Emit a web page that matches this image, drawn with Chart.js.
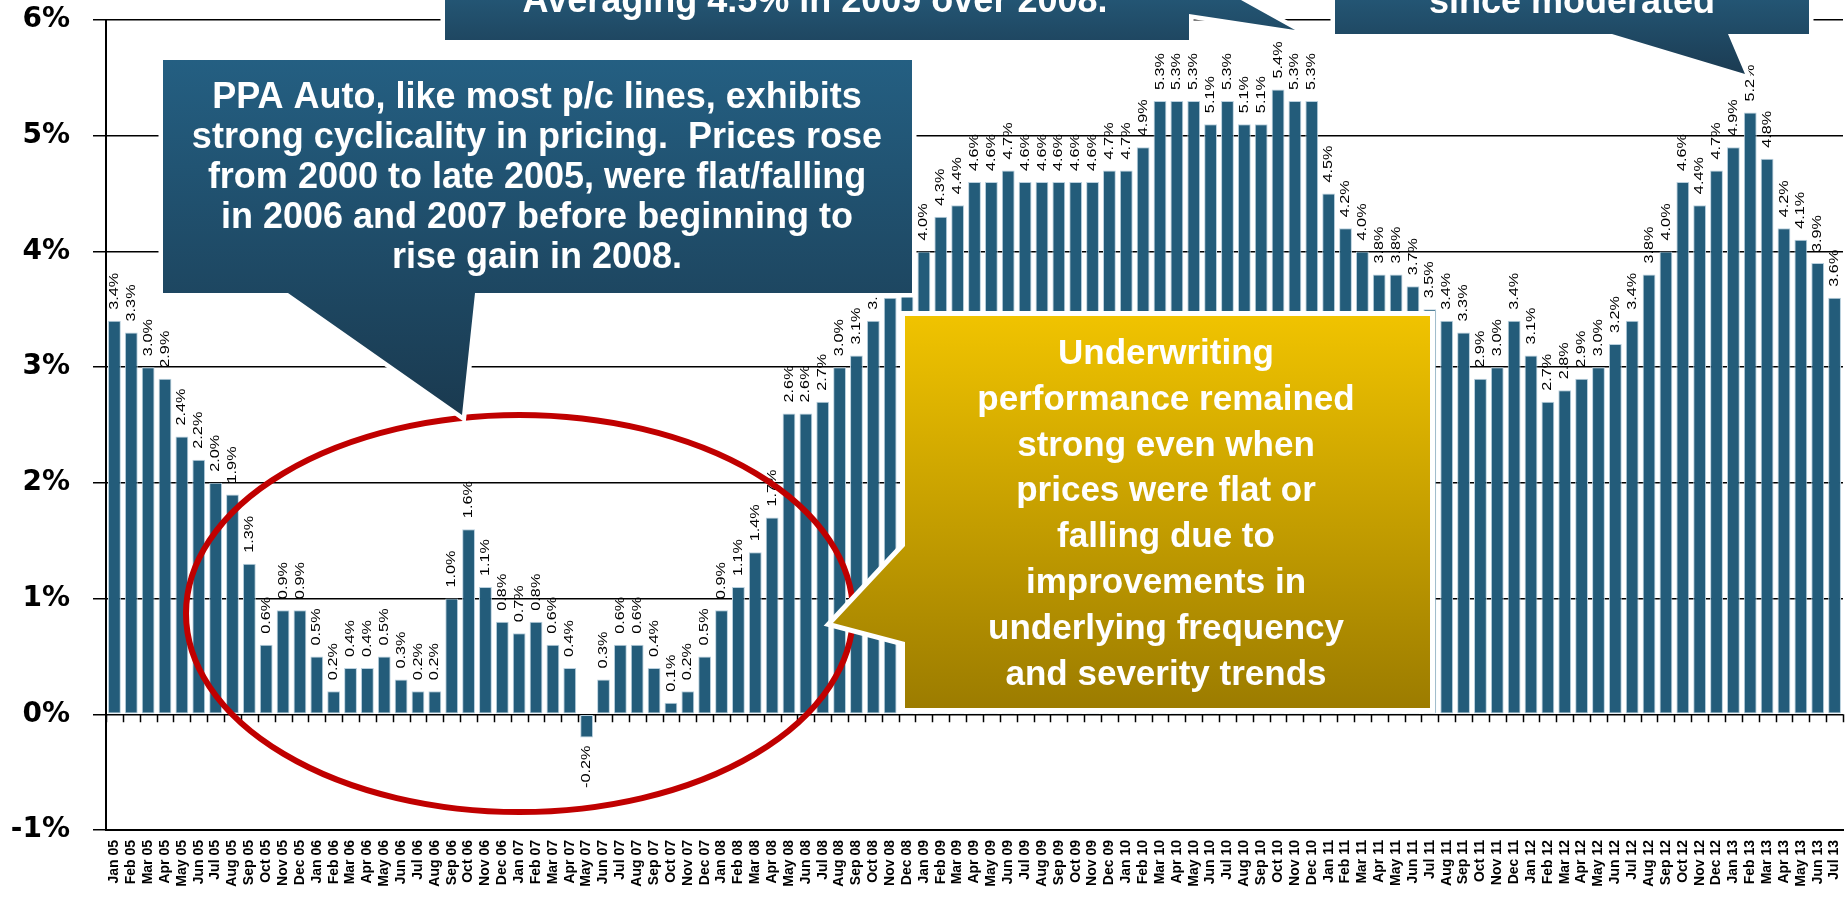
<!DOCTYPE html>
<html>
<head>
<meta charset="utf-8">
<script src="https://cdn.jsdelivr.net/npm/chart.js@4.4.1/dist/chart.umd.min.js"></script>
<style>
  html, body { margin: 0; padding: 0; background: #ffffff; }
  #wrap { width: 1845px; height: 899px; position: relative; }
</style>
</head>
<body>
<div id="wrap"><canvas id="c" width="1845" height="899"></canvas></div>
<script>
// ---- Data ----
const months = ['Jan','Feb','Mar','Apr','May','Jun','Jul','Aug','Sep','Oct','Nov','Dec'];
const years = ['05','06','07','08','09','10','11','12','13'];
const values2005 = [3.4, 3.3, 3.0, 2.9, 2.4, 2.2, 2.0, 1.9, 1.3, 0.6, 0.9, 0.9];
const values2006 = [0.5, 0.2, 0.4, 0.4, 0.5, 0.3, 0.2, 0.2, 1.0, 1.6, 1.1, 0.8];
const values2007 = [0.7, 0.8, 0.6, 0.4, -0.2, 0.3, 0.6, 0.6, 0.4, 0.1, 0.2, 0.5];
const values2008 = [0.9, 1.1, 1.4, 1.7, 2.6, 2.6, 2.7, 3.0, 3.1, 3.4, 3.6, 3.8];
const values2009 = [4.0, 4.3, 4.4, 4.6, 4.6, 4.7, 4.6, 4.6, 4.6, 4.6, 4.6, 4.7];
const values2010 = [4.7, 4.9, 5.3, 5.3, 5.3, 5.1, 5.3, 5.1, 5.1, 5.4, 5.3, 5.3];
const values2011 = [4.5, 4.2, 4.0, 3.8, 3.8, 3.7, 3.5, 3.4, 3.3, 2.9, 3.0, 3.4];
const values2012 = [3.1, 2.7, 2.8, 2.9, 3.0, 3.2, 3.4, 3.8, 4.0, 4.6, 4.4, 4.7];
const values2013 = [4.9, 5.2, 4.8, 4.2, 4.1, 3.9, 3.6];
const yTicks = [-1, 0, 1, 2, 3, 4, 5, 6];

const values = [].concat(values2005, values2006, values2007, values2008, values2009,
                         values2010, values2011, values2012, values2013);
const labels = [];
years.forEach(y => months.forEach(m => labels.push(m + ' ' + y)));
labels.length = values.length;

// ---- Plugins ----
const zeroTicks = {
  id: 'zeroTicks',
  beforeDatasetsDraw(chart) {
    const xs = chart.scales.x, ys = chart.scales.y, ctx = chart.ctx;
    const y0 = ys.getPixelForValue(0);
    const pitch = (xs.right - xs.left) / labels.length;
    ctx.save();
    ctx.strokeStyle = '#000';
    ctx.lineWidth = 1.5;
    ctx.beginPath();
    for (let i = 0; i <= labels.length; i++) {
      const x = Math.round(xs.left + i * pitch) + 0.5;
      ctx.moveTo(x, y0);
      ctx.lineTo(x, y0 + 8);
    }
    ctx.stroke();
    ctx.restore();
  }
};

const barLabels = {
  id: 'barLabels',
  afterDatasetsDraw(chart) {
    const ctx = chart.ctx;
    const meta = chart.getDatasetMeta(0);
    ctx.save();
    ctx.fillStyle = '#000';
    ctx.font = '13px "Liberation Sans", Arial, sans-serif';
    ctx.textBaseline = 'middle';
    meta.data.forEach((bar, i) => {
      const v = values[i];
      const txt = v.toFixed(1) + '%';
      ctx.save();
      if (v >= 0) {
        ctx.translate(bar.x, bar.y - 11);
        ctx.rotate(-Math.PI / 2);
        ctx.scale(1.25, 1);
        ctx.textAlign = 'left';
      } else {
        ctx.translate(bar.x, bar.y + 8);
        ctx.rotate(-Math.PI / 2);
        ctx.scale(1.25, 1);
        ctx.textAlign = 'right';
      }
      ctx.fillText(txt, 0, 0);
      ctx.restore();
    });
    ctx.restore();
  }
};

function shape(ctx, pts) {
  ctx.beginPath();
  ctx.moveTo(pts[0][0], pts[0][1]);
  for (let i = 1; i < pts.length; i++) ctx.lineTo(pts[i][0], pts[i][1]);
  ctx.closePath();
}
function callout(ctx, pts, y1, y2, c1, c2, border) {
  shape(ctx, pts);
  ctx.lineJoin = 'miter';
  ctx.strokeStyle = '#ffffff';
  ctx.lineWidth = border;
  ctx.stroke();
  const g = ctx.createLinearGradient(0, y1, 0, y2);
  g.addColorStop(0, c1);
  g.addColorStop(1, c2);
  ctx.fillStyle = g;
  shape(ctx, pts);
  ctx.fill();
}
function lines(ctx, arr, cx, y0, step, font) {
  ctx.fillStyle = '#ffffff';
  ctx.font = font;
  ctx.textAlign = 'center';
  ctx.textBaseline = 'alphabetic';
  arr.forEach((t, i) => ctx.fillText(t, cx, y0 + i * step));
}

const annotations = {
  id: 'annotations',
  afterDraw(chart) {
    const ctx = chart.ctx;
    ctx.save();
    // red ellipse
    ctx.beginPath();
    ctx.ellipse(519.5, 613.5, 333.5, 198.5, 0, 0, Math.PI * 2);
    ctx.strokeStyle = '#C00000';
    ctx.lineWidth = 6;
    ctx.stroke();

    // top-centre callout
    callout(ctx, [[445,-5],[1232,-5],[1295,30],[1189,14],[1189,40],[445,40]],
            -60, 75, '#2A6A8E', '#1B3B52', 9);
    lines(ctx, ['Averaging 4.5% in 2009 over 2008.'], 815, 12, 0,
          'bold 36px "Liberation Sans", Arial, sans-serif');

    // top-right callout
    callout(ctx, [[1335,-5],[1809,-5],[1809,34],[1728,34],[1745,74],[1612,34],[1335,34]],
            -60, 75, '#2A6A8E', '#1B3B52', 9);
    lines(ctx, ['since moderated'], 1572, 13, 0,
          'bold 36px "Liberation Sans", Arial, sans-serif');

    // PPA Auto callout
    callout(ctx, [[163,60],[912,60],[912,293],[475,293],[462,415],[288,293],[163,293]],
            60, 415, '#245F82', '#1A3A50', 9);
    lines(ctx, ['PPA Auto, like most p/c lines, exhibits',
                'strong cyclicality in pricing.  Prices rose',
                'from 2000 to late 2005, were flat/falling',
                'in 2006 and 2007 before beginning to',
                'rise gain in 2008.'], 537, 108, 40,
          'bold 36px "Liberation Sans", Arial, sans-serif');

    // Underwriting callout (gold)
    callout(ctx, [[905,316],[1430,316],[1430,708],[905,708],[905,642],[833,623],[905,546]],
            316, 708, '#F0C300', '#9C7C00', 10);
    lines(ctx, ['Underwriting', 'performance remained', 'strong even when',
                'prices were flat or', 'falling due to', 'improvements in',
                'underlying frequency', 'and severity trends'], 1166, 364, 45.8,
          'bold 35px "Liberation Sans", Arial, sans-serif');
    ctx.restore();
  }
};

// ---- Chart ----
new Chart(document.getElementById('c'), {
  type: 'bar',
  data: {
    labels: labels,
    datasets: [{
      data: values,
      backgroundColor: '#235C7A',
      borderColor: 'rgba(185,208,222,1)',
      borderWidth: 1,
      borderSkipped: false,
      barPercentage: 0.76,
      categoryPercentage: 1.0
    }]
  },
  options: {
    responsive: false,
    devicePixelRatio: 1,
    animation: false,
    layout: { padding: { top: 20, right: 2, left: 0, bottom: 0 } },
    plugins: { legend: { display: false }, tooltip: { enabled: false } },
    scales: {
      x: {
        offset: true,
        grid: { display: false, drawTicks: false },
        border: { display: true, color: '#000', width: 2 },
        ticks: {
          autoSkip: false, minRotation: 90, maxRotation: 90, padding: 10,
          color: '#000',
          font: { family: '"Liberation Sans", Arial, sans-serif', size: 14, weight: 'bold' }
        },
        afterFit(scale) { scale.height = 69; scale.paddingLeft = 0; scale.paddingRight = 0; }
      },
      y: {
        min: yTicks[0], max: yTicks[yTicks.length - 1],
        afterBuildTicks(scale) { scale.ticks = yTicks.map(v => ({ value: v })); },
        grid: { color: '#000', lineWidth: 1.5, drawTicks: true, tickLength: 13 },
        border: { display: true, color: '#000', width: 2 },
        ticks: {
          padding: 23, color: '#000',
          font: { family: '"DejaVu Sans", sans-serif', size: 28, weight: 'bold' },
          callback: v => v + '%'
        },
        afterFit(scale) { scale.width = 106; scale.paddingTop = 0; scale.paddingBottom = 0; }
      }
    }
  },
  plugins: [zeroTicks, barLabels, annotations]
});
</script>
</body>
</html>
